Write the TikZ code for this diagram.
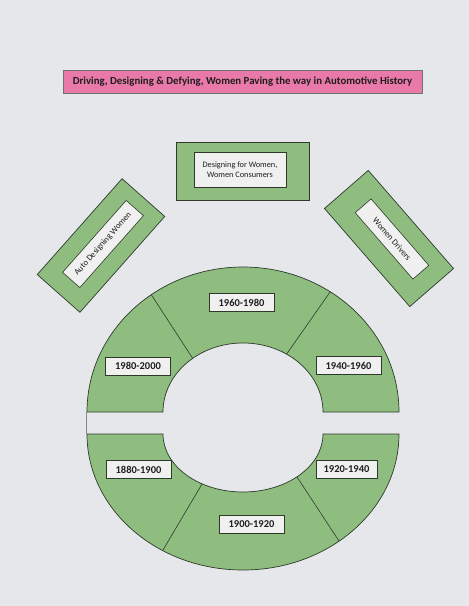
\documentclass[tikz,border=0pt]{standalone}
\usepackage{fontspec}
\setmainfont{Carlito}
\definecolor{bg}{RGB}{230,231,235}
\definecolor{ringgreen}{RGB}{143,189,128}
\definecolor{edgecol}{RGB}{45,58,42}
\definecolor{titlepink}{RGB}{233,121,168}
\definecolor{labelfill}{RGB}{240,240,240}
\definecolor{txt}{RGB}{30,30,30}
\begin{document}
\begin{tikzpicture}[x=1pt,y=-1pt,
  ring/.style={fill=ringgreen,draw=edgecol,line width=0.7pt},
  divider/.style={draw=edgecol,line width=0.6pt},
  greenbox/.style={fill=ringgreen,draw=edgecol,line width=0.7pt,inner sep=0pt},
  whitebox/.style={fill=labelfill,draw=edgecol,line width=0.6pt,inner sep=0pt,text=txt,font=\fontsize{8.3}{10}\selectfont,align=center},
  yearbox/.style={fill=labelfill,draw=edgecol,line width=0.7pt,inner sep=0pt,minimum width=65pt,minimum height=18pt,text=txt,font=\fontsize{10.5}{12}\selectfont\bfseries},
  titlebox/.style={fill=titlepink,draw=edgecol!70,line width=0.7pt,inner sep=0pt,minimum width=359pt,minimum height=22.5pt,text=txt,font=\fontsize{10.8}{12}\selectfont\bfseries}
]
\fill[bg] (0,0) rectangle (469,606);
\useasboundingbox (0,0) rectangle (469,606);

% title
\node[titlebox] (title) at (242.5,82) {Driving, Designing \& Defying, Women Paving the way in Automotive History};

% top box
\node[greenbox,minimum width=133pt,minimum height=58pt] (topouter) at (242.5,171) {};
\node[whitebox,minimum width=92pt,minimum height=35pt] (topinner) at (240,169.5) {Designing for Women,\\Women Consumers};

% left rotated box
\node[greenbox,minimum width=128pt,minimum height=57pt,rotate=48.5] (leftouter) at (101,245.5) {};
\node[whitebox,minimum width=96pt,minimum height=23pt,rotate=48.5,font=\fontsize{8.5}{10}\selectfont] (leftinner) at (103,244) {Auto Designing Women};

% right rotated box
\node[greenbox,minimum width=130pt,minimum height=58pt,rotate=-49] (rightouter) at (389,238.5) {};
\node[whitebox,minimum width=88pt,minimum height=21pt,rotate=-49,font=\fontsize{8.5}{10}\selectfont] (rightinner) at (392,239) {Women Drivers};

% upper half ring
\path[ring] (87,412) arc[start angle=180,end angle=360,x radius=156,y radius=145]
  -- (323,412) arc[start angle=360,end angle=180,x radius=80,y radius=69] -- cycle;
\draw[divider] (151.3,294.7) -- (192.7,358.4);
\draw[divider] (330.2,291.8) -- (286.6,354.1);

% lower half ring
\path[ring] (87,434) arc[start angle=180,end angle=0,x radius=156,y radius=136]
  -- (323,434) arc[start angle=0,end angle=180,x radius=80,y radius=58] -- cycle;
\draw[divider] (163,550) -- (202,484);
\draw[divider] (339,541) -- (297,477);

% faint line between halves
\draw[edgecol!60,line width=0.5pt] (86.5,412) -- (86.5,434);

% year labels
\node[yearbox] (y1960) at (241.5,302.5) {1960-1980};
\node[yearbox] (y1980) at (138,366) {1980-2000};
\node[yearbox] (y1940) at (348.5,365.5) {1940-1960};
\node[yearbox] (y1880) at (138.5,469.5) {1880-1900};
\node[yearbox,minimum width=61pt] (y1920) at (346.5,469) {1920-1940};
\node[yearbox] (y1900) at (251.5,524.5) {1900-1920};
\end{tikzpicture}
\end{document}
